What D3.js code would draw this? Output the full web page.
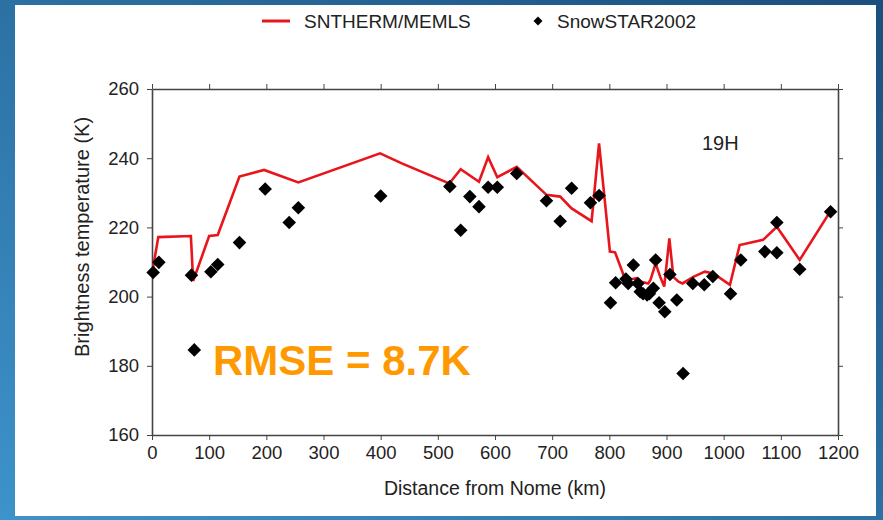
<!DOCTYPE html>
<html>
<head>
<meta charset="utf-8">
<script src="https://cdn.jsdelivr.net/npm/d3@7"></script>
<style>
  html, body { margin: 0; padding: 0; }
  body { width: 883px; height: 520px; overflow: hidden; }
  text { font-family: "Liberation Sans", Arial, Helvetica, sans-serif; }
</style>
</head>
<body>
<svg id="chart" width="883" height="520"></svg>
<script>
// Modelled brightness temperature along the traverse (SNTHERM/MEMLS), 19 GHz H-pol
const modelDist = [2, 11, 68, 72, 100, 115, 153, 196, 256, 399, 437, 520, 540, 572, 588, 604, 638, 690, 714, 734, 769, 782, 801, 810, 827, 839, 848, 856, 868, 872, 881, 889, 896, 905, 912, 921, 928, 947, 967, 982, 1011, 1028, 1069, 1093, 1133, 1186];
const modelTb   = [208.5, 217.2, 217.5, 204.5, 217.5, 217.8, 234.7, 236.6, 233, 241.4, 238.5, 232.7, 236.8, 233.2, 240.3, 234.5, 237.5, 229.4, 228.9, 225.5, 221.8, 244.3, 213, 212.8, 205.3, 205, 205.3, 204.3, 203.8, 204.8, 209.6, 205.7, 202.9, 216.8, 205.7, 204.3, 203.8, 205.7, 207.2, 206.7, 203.4, 214.9, 216.4, 220.2, 210.6, 224.5];

// SnowSTAR2002 observations
const obsDist = [2, 12, 69, 74, 103, 115, 153, 198, 240, 256, 400, 521, 540, 556, 572, 588, 604, 638, 690, 714, 734, 767, 782, 802, 811, 829, 833, 842, 850, 854, 859, 866, 870, 877, 881, 887, 897, 906, 918, 929, 946, 966, 981, 1012, 1030, 1072, 1093, 1093, 1133, 1187];
const obsTb   = [207, 209.9, 206.2, 184.6, 207.2, 209.3, 215.6, 231.1, 221.4, 225.7, 229.1, 231.8, 219.2, 228.9, 226, 231.6, 231.6, 235.6, 227.7, 221.8, 231.3, 227.1, 229.2, 198.2, 204, 205.1, 203.8, 209.1, 203.8, 201.4, 200.8, 200.5, 200.8, 202.4, 210.6, 198.2, 195.6, 206.4, 199, 177.8, 203.8, 203.4, 205.8, 200.8, 210.6, 213, 212.7, 221.4, 207.9, 224.5];

const xTicks = [0, 100, 200, 300, 400, 500, 600, 700, 800, 900, 1000, 1100, 1200];
const yTicks = [160, 180, 200, 220, 240, 260];
const seriesNames = ["SNTHERM/MEMLS", "SnowSTAR2002"];
const channelLabel = "19H";
const rmseLabel = "RMSE = 8.7K";

const svg = d3.select("#chart");

// slide background
const defs = svg.append("defs");
const grad = defs.append("linearGradient").attr("id", "bg")
  .attr("x1", "100%").attr("y1", "0%").attr("x2", "0%").attr("y2", "100%");
grad.append("stop").attr("offset", "0%").attr("stop-color", "#1b4f7d");
grad.append("stop").attr("offset", "100%").attr("stop-color", "#3d93cb");
svg.append("rect").attr("width", 883).attr("height", 520).attr("fill", "url(#bg)");
svg.append("rect").attr("x", 15).attr("y", 5).attr("width", 861).attr("height", 511).attr("fill", "#ffffff");

const plot = { left: 152, right: 838, top: 89, bottom: 435 };
const x = d3.scaleLinear().domain([0, 1200]).range([plot.left, plot.right]);
const y = d3.scaleLinear().domain([160, 260]).range([plot.bottom, plot.top]);

const axisColor = "#444";
const fmt = d3.format("d");
function styleAxis(g, showLabels) {
  g.selectAll(".domain").attr("stroke", axisColor).attr("stroke-width", 1.6);
  g.selectAll(".tick line").attr("stroke", axisColor).attr("stroke-width", 1);
  g.selectAll(".tick text")
    .attr("fill", "#222")
    .style("font-size", "18.5px")
    .style("font-family", "\"Liberation Sans\", Arial, sans-serif")
    .attr("opacity", showLabels ? 1 : 0);
}

svg.append("g").attr("transform", `translate(0,${plot.bottom})`)
  .call(d3.axisBottom(x).tickValues(xTicks).tickFormat(fmt).tickSize(5).tickSizeOuter(0).tickPadding(6))
  .call(g => styleAxis(g, true));
svg.append("g").attr("transform", `translate(0,${plot.top})`)
  .call(d3.axisTop(x).tickValues(xTicks).tickFormat(fmt).tickSize(5).tickSizeOuter(0))
  .call(g => styleAxis(g, false));
svg.append("g").attr("transform", `translate(${plot.left},0)`)
  .call(d3.axisLeft(y).tickValues(yTicks).tickFormat(fmt).tickSize(5).tickSizeOuter(0).tickPadding(8))
  .call(g => styleAxis(g, true));
svg.append("g").attr("transform", `translate(${plot.right},0)`)
  .call(d3.axisRight(y).tickValues(yTicks).tickFormat(fmt).tickSize(5).tickSizeOuter(0))
  .call(g => styleAxis(g, false));

// axis titles
svg.append("text")
  .attr("x", (plot.left + plot.right) / 2).attr("y", 495)
  .attr("text-anchor", "middle").attr("fill", "#222").style("font-size", "19.5px")
  .text("Distance from Nome (km)");
svg.append("text")
  .attr("transform", `translate(89,${(plot.top + plot.bottom) / 2 - 25}) rotate(-90)`)
  .attr("text-anchor", "middle").attr("fill", "#222").style("font-size", "20px")
  .text("Brightness temperature (K)");

// model line
const modelPts = modelDist.map((d, i) => [d, modelTb[i]]);
svg.append("path")
  .datum(modelPts)
  .attr("fill", "none")
  .attr("stroke", "#e8161c")
  .attr("stroke-width", 2.6)
  .attr("stroke-linejoin", "miter")
  .attr("d", d3.line().x(d => x(d[0])).y(d => y(d[1])));

// observations as diamonds
const diamond = d3.symbol().type(d3.symbolSquare).size(92);
const obsPts = obsDist.map((d, i) => [d, obsTb[i]]);
svg.append("g").selectAll("path")
  .data(obsPts)
  .join("path")
  .attr("d", diamond)
  .attr("transform", d => `translate(${x(d[0])},${y(d[1])}) rotate(45)`)
  .attr("fill", "#000");

// panel label and score
svg.append("text").attr("x", 702).attr("y", 150)
  .attr("fill", "#222").style("font-size", "20px").text(channelLabel);
svg.append("text").attr("x", 213).attr("y", 375)
  .attr("fill", "#ff9900").style("font-size", "42px").style("font-weight", "bold")
  .text(rmseLabel);

// legend
const legend = svg.append("g");
legend.append("line").attr("x1", 262).attr("x2", 290).attr("y1", 21).attr("y2", 21)
  .attr("stroke", "#e8161c").attr("stroke-width", 3);
legend.append("text").attr("x", 304).attr("y", 28).attr("fill", "#222")
  .style("font-size", "19px").text(seriesNames[0]);
legend.append("path").attr("d", d3.symbol().type(d3.symbolSquare).size(40))
  .attr("transform", "translate(538,21) rotate(45)").attr("fill", "#000");
legend.append("text").attr("x", 557).attr("y", 28).attr("fill", "#222")
  .style("font-size", "19px").text(seriesNames[1]);
</script>
</body>
</html>
